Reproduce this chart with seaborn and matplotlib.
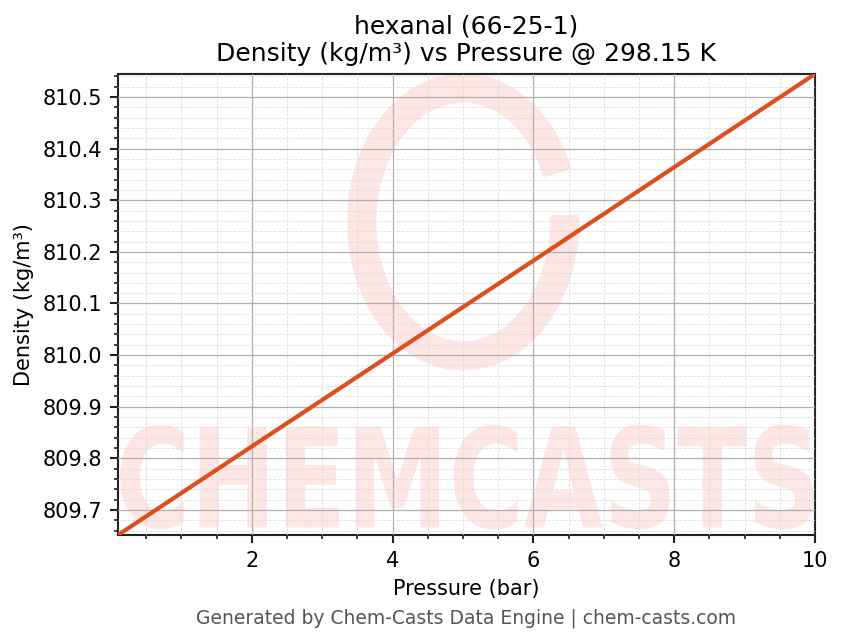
import numpy as np
import pandas as pd
import matplotlib
matplotlib.use("Agg")
import matplotlib.pyplot as plt
import seaborn as sns
from matplotlib.ticker import MultipleLocator, FormatStrFormatter
from matplotlib.patches import Arc, PathPatch
from matplotlib.textpath import TextPath
from matplotlib.font_manager import FontProperties
from matplotlib.transforms import Affine2D

# data
pressure_bar = [0.1, 2, 4, 6, 8, 10]
density_kgm3 = [809.6515, 809.823, 810.003, 810.183, 810.364, 810.5446]

df = pd.DataFrame({"Pressure (bar)": pressure_bar, "Density": density_kgm3})

sns.set_style("ticks")
plt.rcParams["font.family"] = ["DejaVu Sans"]
plt.rcParams["text.color"] = "black"
plt.rcParams["axes.labelcolor"] = "black"

fig = plt.figure(figsize=(843 / 150, 644 / 150), dpi=150)
ax = fig.add_axes([118 / 843, 1 - 535 / 644, (815 - 118) / 843, (535 - 74) / 644])

# faded logo watermark
wm = "#fde6e3"
ring = Arc((0.495, 0.679), 0.291, 0.581, theta1=38, theta2=366,
           transform=ax.transAxes, color=wm, lw=14, zorder=0)
ax.add_patch(ring)
tp = TextPath((0, 0), "CHEMCASTS", size=1,
              prop=FontProperties(family="DejaVu Sans", weight="bold"))
ext = tp.get_extents()
sx = 0.995 / ext.width
sy = (0.239 - 0.012) / ext.height
tr = Affine2D().translate(-ext.x0, -ext.y0).scale(sx, sy).translate(0.003, 0.012) + ax.transAxes
ax.add_patch(PathPatch(tp, transform=tr, color=wm, lw=0, zorder=0))

sns.lineplot(data=df, x="Pressure (bar)", y="Density", ax=ax,
             color="#dd4f1d", lw=2, zorder=3)

ax.set_xlim(0.1, 10)
ax.set_ylim(809.6515, 810.5446)
ax.xaxis.set_major_locator(MultipleLocator(2))
ax.xaxis.set_minor_locator(MultipleLocator(0.5))
ax.yaxis.set_major_locator(MultipleLocator(0.1))
ax.yaxis.set_minor_locator(MultipleLocator(0.02))
ax.yaxis.set_major_formatter(FormatStrFormatter("%.1f"))

ax.grid(which="major", color="#b0b0b0", lw=0.6, zorder=1)
ax.grid(which="minor", color="#dddddd", lw=0.4, ls="--", zorder=1)
ax.set_axisbelow(False)
for s in ax.spines.values():
    s.set_color("#222222")
    s.set_linewidth(1.0)
ax.tick_params(which="major", direction="out", length=4, width=1, labelsize=10,
               colors="#222222", labelcolor="black")
ax.tick_params(which="minor", direction="out", length=2, width=0.8, colors="#222222")

ax.set_xlabel("Pressure (bar)", fontsize=10)
ax.set_ylabel("Density (kg/m³)", fontsize=10)
ax.set_title("hexanal (66-25-1)\nDensity (kg/m³) vs Pressure @ 298.15 K", fontsize=12)

fig.text(0.553, 1 - 618 / 644, "Generated by Chem-Casts Data Engine | chem-casts.com",
         ha="center", va="center", fontsize=9, color="#555555")

fig.savefig("out.png", dpi=150)
